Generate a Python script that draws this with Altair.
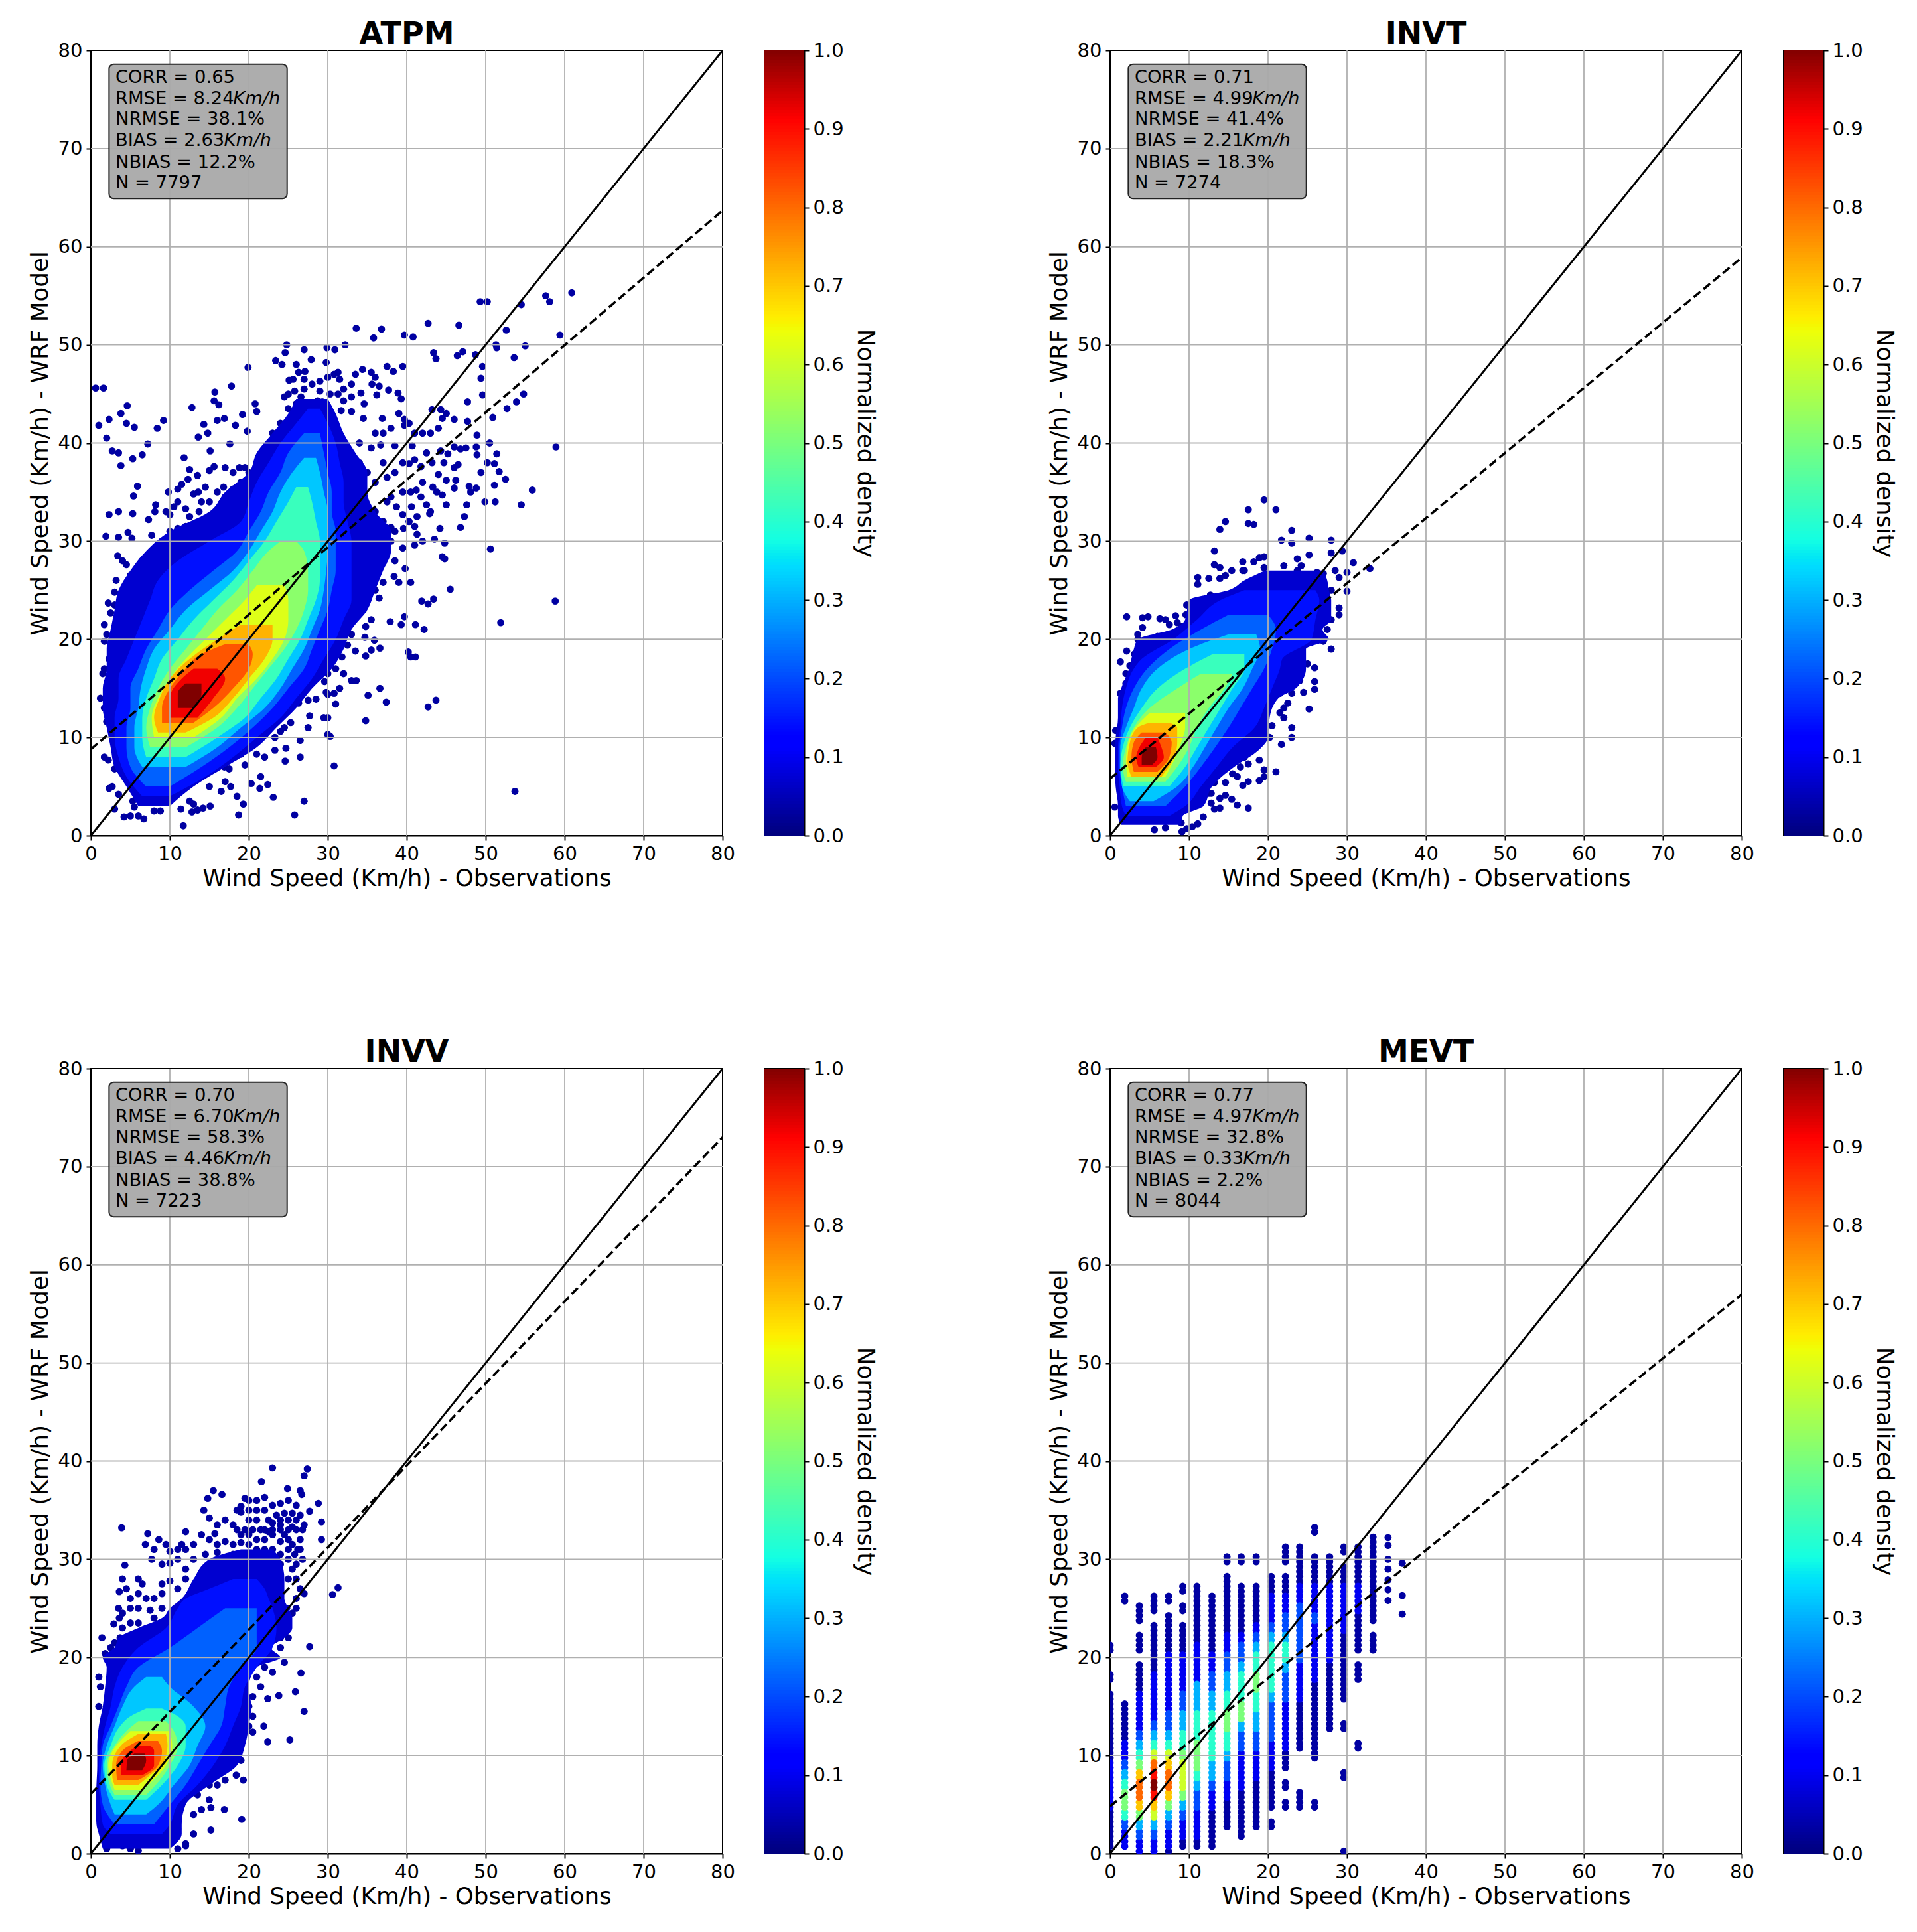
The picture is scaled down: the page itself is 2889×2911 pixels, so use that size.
import altair as alt
import pandas as pd

alt.data_transformers.disable_max_rows()

FONT = "DejaVu Sans"
TICKS = [0, 10, 20, 30, 40, 50, 60, 70, 80]
GRID = [10, 20, 30, 40, 50, 60, 70]
CB_TICKS = [0, .1, .2, .3, .4, .5, .6, .7, .8, .9, 1]
LEVEL = {'0': .03, '1': .1, '2': .2, '3': .3, '4': .4, '5': .5, '6': .6, '7': .7, '8': .8, '9': .9, 'X': 1.0}
BAND = [.07, .14, .22, .32, .42, .52, .62, .72, .82, .92, 1.0]
JET_D = [0, .11, .125, .34, .35, .375, .64, .65, .66, .89, .91, 1]
JET_R = ["#00007f", "#0000ff", "#0000ff", "#00dbff", "#00e5f7", "#14ffe2", "#eeff08", "#f7f500", "#ffec00", "#ff1300", "#ff0000", "#7f0000"]

ATPM_BANDS = [
 [(3,6,10),(5,4.5,13),(7,3,17),(9,2.5,21),(11,2,23.5),(13,1.5,26),(15,1.5,28),(17,2,30.5),(19,2,32),(21,2.5,33),(23,3,35),(25,3.5,36),(27,5,37),(29,7,38),(31,10,38),(33,15,36),(35,17,35),(37,20,35),(39,21,33.5),(41,23,32),(43,25,31),(44.5,26,30)],
 [(4,6.5,10),(6,4.5,14.5),(8,3.5,18),(10,3,21),(12,3,24),(14,3.5,26),(16,3.5,28),(18,4.5,29.5),(20,5.5,31),(22,6.5,32),(24,7.5,33),(26,8.5,33),(28,11,33),(30,15,33),(32,19,32.5),(34,20,32),(36,21,32),(38,22.5,31.5),(40,24,31),(42,26,30),(43.5,27.5,29)],
 [(5,7,10),(7,5,14),(9,4.5,17.5),(11,4.5,20.5),(13,5,23),(15,5,25),(17,6,27),(19,7,28),(21,8.5,29),(23,10,30),(25,12.5,30.5),(27,15.5,31),(29,18.5,31),(31,20,31),(33,21.5,30.5),(35,22.5,30.5),(37,24,30),(39,25,29.5),(41,27,29)],
 [(7,6.5,12),(9,5.5,16),(11,5.5,19),(13,6,22),(15,6.3,24),(17,7,25.5),(19,8,27),(21,10,28),(23,12,29),(25,15,29.5),(27,18,29.8),(29,20,30),(31,21.5,30),(33,23,30),(35,24,29.5),(37,25.5,29),(38.5,27,28.5)],
 [(8,7,12),(10,6.5,16),(12,6.5,19.5),(14,7,21.5),(16,8,23.5),(18,9,25),(20,11,26.5),(22,13,27.5),(24,15.5,28.5),(26,18,29),(28,20,29),(30,22,29),(32,23.5,28.5),(34,25,28),(35.5,26,27.5)],
 [(9,7.5,12),(11,7,16),(13,7.5,18.5),(15,8.5,20.5),(17,10,22.5),(19,12,24.5),(21,14,26),(23,16,27),(25,18.5,27.5),(27,20.5,27.5),(29,22.5,27),(30,24,26)],
 [(10,8,13),(12,7.7,16.5),(14,8.5,18.5),(16,10,21),(18,12,23),(20,14.5,24.5),(22,17,25),(24,19.5,25),(25.5,21,24.5)],
 [(10.5,8.5,12),(12,8,15.5),(14,8.7,18),(16,10,20),(18,12.5,22),(20,16,23),(21.5,19,23)],
 [(11.5,9,13),(13,9,15.5),(15,10,18),(17,12,20),(18.5,14,20.5),(19.5,17,20)],
 [(12,10,13.5),(14,10,15.5),(16,11.5,17),(17,13,16)],
 [(13,11,13.2),(14.5,11,14),(15.5,12,14)],
]
ATPM_XY = [(.6,45.6),(1.6,45.6),(4.6,43.8),(3.8,43),(2.3,42.4),(1,41.8),(4.5,42),(5.5,41.6),(2,40.5),(9.2,42.3),(8.4,41.5),(7.2,39.9),(6.5,38.8),(5.3,38.4),(2.7,39.2),(3.5,39),(3.8,37.7),(5.9,35.6),(5.4,34.6),(3.5,33),(2.3,32.7),(5.3,32.8),(8.2,33.7),(8.1,33),(7.3,32.2),(1.9,30.5),(3.5,30.4),(4.7,30.9),(5.2,30.3),(7.7,30.6),
(11.8,38.5),(17.8,45.8),(15.7,45.2),(15.6,44.3),(16.2,43.9),(12.8,43.6),(14.3,41.9),(13.6,40.6),(14.8,41),(16,42.3),(16.9,42.5),(18.3,41.8),(19.2,42.9),(19.8,41.2),(20.8,44),(21,43.2),(19.9,47.7),(17.6,39.9),(15.1,39.2),
(24.8,50),(23.4,48.4),(24.2,48),(24.6,49.2),(27,49.5),(27.9,48.5),(29.9,49.7),(30.9,49.5),(29.8,48.2),(32.2,50),(33.6,51.7),(36.8,51.6),(35.8,50.7),(39.7,51),(40.8,50.8),(42.7,52.2),(46.6,52),(49.3,54.4),(50.2,54.4),(57.6,55),(58.1,54.4),(60.9,55.3),(54.5,54.1),(52.6,51.5),(51.3,50),(51.4,49.7),(55,49.9),(59.4,51),(53.6,48.7),(48.7,49),(47.1,49.3),(46.4,48.9),(43.4,49.2),(43.7,48.6),(49.6,47.8),(49.4,46.6),(49.6,44.9),(47.7,44.2),(54.8,45),(53.9,44.2),(52.7,43.5),(50.9,42.6),(46,42.4),(47.7,42.2),(48.9,40.8),(58.9,39.6),(50.5,40),(51.4,38.9),(48.8,39.6),(48.9,38.8),(49.4,37),(50.2,38),(51.1,37.9),(51.7,37.1),(52.5,36.3),(55.9,35.2),(49.9,34),(51.2,34),(54.5,33.7),(51.1,35.7),(48.8,35.4),(47.9,35.6),(48.1,35),(47.6,33.7),(47.3,32.5),(46.8,31.4),(50.6,29.2),(44.8,29.8),(44.5,28.4),(44.8,28.2),(45.5,25.1),(43.4,24.1),(42.7,23.6),(41.9,23.9),(58.8,23.9),(51.9,21.7),(42.2,21),(41.1,21.5),(39.3,21.5),(39.7,22.3),(37.9,21.8),(40.2,18.7),(40.5,18.2),(41.1,18.2),(36.6,19.1),(35.9,19.9),(35.5,18.9),(34.8,18.3),(34.7,20.2),(43.7,13.8),(42.7,13.1),(37.4,13.6),(36.6,15),(35.1,14.3),(33.6,15.8),(34.8,11.7),(30.8,7.1),(53.7,4.5),(27,3.5),(25.8,2.1),(26.5,8),(24.7,8.9),(24.6,7.6),(23.1,3.9),(18.7,2.1),(11.7,1),(22.4,5.2),(21.4,4.8),(21.5,6),(20.3,5.3),(19.3,3.2),(15.1,3),(14.2,2.8),(11.4,2.7),
(26,48),(26.3,47.2),(27.1,47.3),(25.1,46.4),(25.6,46.5),(27,46.5),(28,46),(29,46.3),(30,46.7),(30.8,47),(31.3,47.2),(31.5,46.5),(33.5,47),(34.4,47.5),(35.5,47.2),(36,46.7),(35.6,46),(36.5,45.8),(37.5,47.8),(38.3,47.3),(39.5,47.8),(25,45),(24.5,44.7),(25.8,45.3),(26.6,44.7),(28.7,44.3),(29.3,44.2),(30.3,45),(31.3,45),(32,44.3),(33,44.7),(34.2,45.1),(34.6,44),(36.2,44.9),(37.7,45.4),(38.9,45.1),(39.3,44.5),(30,43.5),(31.7,43.3),(33,43.2),(34.5,42.5),(36.9,42.5),(39,43),(39.7,42.4),(40.3,42),(36,41),(37,41),(38,41.5),(39.7,41.8),(41,41),(42,41),(43,41),(44,41.5),(44.5,42.5),(45,43),(44.3,43.4),(43.2,43.4),
(34,40),(35.5,39.5),(36.7,39.8),(38.5,39.7),(40.7,39.7),(42.5,39),(44.3,39.2),(45.2,38.9),(46,39.6),(46.8,39.4),(47.5,39.5),(40.3,37.9),(41,38.3),(41.8,37.6),(43.2,38),(44.7,38),(46,37.5),(46.5,37.8),(44,36.8),(45,36.2),(46.2,36.2),(46,35.4),(42,36),(41.2,35.2),(40.5,35),(41.8,34.5),(42.5,33.7),(43,33),(43.3,35.5),(43.8,35),(44.5,34.7),(45,33.7),(42.9,32.8),(39.5,35),(38,34.5),(37.5,34),(38.7,33.5),(39.5,32.7),(40.3,32),(40.6,33.5),(41.3,32.5),(41,31.5),(37,32),(38,31.4),(39.6,31.3),(41.3,30.7),(42,30),(44.2,31.3),(43.5,30.2),(41,29.6),(39.5,29.3),(37.5,29),(38.5,28),(39.8,27.2),(37,27.8),(36,27),(38.4,26.4),(37,25.8),(39,25.8),(40.5,25.8),(36,25),(35,25),(36.5,24.2),(34.5,23),(33.5,23.5),(33,22),(35.5,22),(34.8,21.3),(33,20.5),(32,20),
(9.5,33),(10,32.7),(10.5,33.5),(11,35.3),(11.5,35.8),(12.3,36.3),(12.5,37.3),(13.5,36.7),(15,37.2),(15.6,37.6),(17,37.5),(18,37),(18.8,37.5),(19.5,37.5),(9.8,35),(11,34),(13,34.8),(13.6,35),(14.5,35.5),(16,35),(16.8,35.5),(18,35.3),(12.5,32.5),(13.7,33),(15,32.5),(16.5,33.8),(14.5,31),(15.7,31.7),(10,31),(11,31.3),(12,31.5),(13,31),(7.2,28.5),(8.3,29),(10,29),(3.4,28.5),(4,28),(4.5,27.6),(5,26.5),(6,27),(6.5,26),(8,27.5),(9,27),(3.2,26),(3,24.8),(5.2,25),(6,24.5),(2.2,23.7),(3,23.5),(2.5,22.7),(4,23.5),(5,23),(1.7,21.5),(3,21),(1.7,19.8),(3,19),(2.3,18),(1.5,16.5),(2,15),(1.2,14),(1.7,13),(2,11.6),(1.7,8),(2.2,7.7),(3,6.8),(2.7,5),(2.3,4.8),(3.5,4.2),(3,2.7),(4.2,1.9),(5,2),(6,2),(6.7,1.7),(5.3,3.5),(5.5,2.9),(7,3.4),(8,2.5),(8.8,2.5),(9,3.5),
(12.5,3.5),(12.8,2.4),(13,3.2),(13.5,2.6),(15,5),(16.5,4.5),(17,5.5),(17.7,5),(18.5,4),(16.9,7),(17.5,6.8),(18.2,8),(19,8.3),(19.5,7.2),(20.3,9.6),(21,8.3),(22,8),(23.3,8.7),(23.3,10),(24,10.6),(24.5,11),(25.3,11.5),(26.5,9.7),(27.5,11),(27.7,12.2),(26.3,13.5),(27.5,13.8),(28.5,13.9),(29.8,14.6),(30,14.4),(30.8,14.5),(31.5,15),(31,13.4),(29.5,12),(30,12),(30,10.3),(30.3,10.1),(29.6,15.7),(30,16.5),(31,17),(32,16.5),(33,15.8),(31.8,18.2),(32.5,19.4),(33.5,18.8),
(33,27),(34.5,28.5),(35,30),(36,31.5),(37,30),(38,30),(38.5,31),(36,33),(35,33.5),(34,35),(33.5,37),(36,36),(37.5,36.5),(35,37),(34,38),(37,38),(38.5,37),(39.5,38),(36,29),(34.5,26),(33,24),(32,22.5),(31,20),(30,18.5),(9,30),(8,28.5),(6.5,28),(7,26.5),(5.5,25.5),(4.3,25),(4,24),(3.5,22),(2,20.5),(1.7,17),(2,13.5),(12,33.3),(14,34),(15,34),(17,34.5),(18,34),(19,36),(20,37),(21,38),(22,39),(23,41),(24,42),(25,43.5),(26,44),(27,45.5),(29,45.3),(32,45.5),(33,46)]

INVT_BANDS = [
 [(1.1,1.4,9),(2,1,9.2),(3,1,11.8),(5,.7,12.9),(7,.6,15.7),(8.5,.6,18.5),(10,.7,20),(12,1,20.2),(14,1,21.3),(15,1.4,23.5),(17,2.4,24.8),(19,3,24.8),(20,3.5,27.7),(21,7.8,26.9),(22,9.5,28),(24,10,28),(25,15,27.7),(26,17,27.5),(27,19.6,27)],
 [(2,2,7.5),(3,1.5,9.5),(5,1.2,11.5),(7,1,13.5),(9,1,15.5),(11,1.3,18.3),(13,1.5,19.5),(15,2,20.5),(17,3,21.5),(18,4,21.8),(20,8,25.5),(22,11,26),(24,14,26.5),(25,17,26)],
 [(3,2,7),(5,1.5,9.5),(7,1.2,11.5),(9,1.2,13.3),(11,1.5,15),(13,2,16.5),(15,3,18),(17,4.7,19.5),(19,7.5,20.5),(21,11.5,21),(22.5,15,20)],
 [(3.5,2.5,5.5),(5,1.5,8.5),(7,1.3,10.5),(9,1.3,12),(11,2,13.5),(13,3,15),(15,4,16.8),(17,6,18),(19,10,19),(20.5,15,18.5)],
 [(5,1.7,7.5),(7,1.3,9.5),(9,1.6,11),(11,2.5,12.5),(13,4,14),(15,6,15.5),(17,9.5,17),(18.5,13,17)],
 [(5.5,2,7),(7,1.6,8.5),(9,2,10),(11,3,11),(13,5,12.5),(15,8.5,14.5),(16.5,11.5,15.5)],
 [(6,2.2,7),(7.5,2,8),(9.5,2.3,9),(11,3.2,9.5),(12.5,5,9.5)],
 [(6,2.7,6.5),(7.5,2.2,7.8),(9.5,2.5,8.5),(11,3.5,8.5),(11.5,5,7.5)],
 [(6.5,3,6),(8,2.7,7.5),(9.5,3,7.8),(10.5,4,7)],
 [(7,3.6,5.8),(8,3.3,6.8),(9,3.7,6.5),(10,4.5,6)],
 [(7.2,4,5.3),(8,4,6),(9,4.5,5.8)],
]
INVT_XY = [(19.5,34.2),(17.5,33.2),(21,33.2),(14.6,32),(13.9,31.2),(17.5,31.8),(18.2,31.7),(23,31.1),(21.7,30.1),(23,29.8),(25.2,30.3),(28,30.1),(13.2,29),(32.9,27.2),(30.8,27.8),(30,26.8),(30,24.9),(29.4,29),(28,28.8),(25.2,28.6),(23.7,28.2),(13.2,27.6),(13.9,27.3),(15.4,27),(11.1,26.3),(11.1,25.6),(12.5,26.2),(13.9,26.2),(14.6,26.5),(16.8,27.9),(16.8,27),(18.2,27.9),(18.9,28.3),(19.5,28.4),(2.1,22.3),(4.1,22.2),(4.8,22.3),(6.3,22.1),(8.3,22.4),(4.1,21.2),(2.1,18.8),(1.3,17.7),(25.9,17.1),(25.9,15.7),(25.9,14.9),(24.5,14.6),(25.2,12.9),(23,10),(23,11),(21.7,9.3),(21,6.5),(18.9,7.7),(19.5,6.7),(19.5,6),(18.9,5.6),(17.5,5.5),(16.8,5.1),(16.1,6),(14.6,5.4),(13.2,5.4),(17.5,2.8),(16.1,3.1),(15.4,3.7),(14.6,4.1),(13.9,3.8),(13.9,2.8),(13.2,2.7),(12.5,4.3),(11.8,1.9),(11.1,1.2),(10.4,.9),(9.7,.7),(9.1,.4),(7,.8),(5.6,.6),(.6,2.9),(.7,10.7),(.6,9.4),
(17,27),(19.5,27.3),(22,27.5),(23.7,27),(24.2,27.5),(25.2,26.5),(26.2,26.8),(27,26.7),(28.5,27),(29,26.3),(28,25),(29,23.2),(29,22.5),(28,22),(27.5,21),(27,19.8),(28,19),(11,23.5),(12,23.7),(12.7,24.5),(9.7,23.5),(9.6,22.5),(9,21.3),(8.5,21.7),(7.5,21.5),(7,22),(3.5,20.5),(3.5,20),(6,20.3),(6.7,20),(5.2,19),(3.1,18.5),(2.5,17.3),(2,16.5),(2,15.5),(1.3,14.5),(25,17.5),(24,18),(23.5,15.5),(22.5,15.8),(22,15),(24,15.8),(21.5,14.5),(23,14.5),(22.5,13.5),(21.5,12.5),(22,12),(22,13),(20.5,11.2),(20.2,10),(19,10.5),(17,8),(18,9),(17.5,7.3),(16.5,7),(15.5,6.3),(12.8,4.3),(12.8,3.3),(11,3.8),(9.7,2.7),(8,1.8),(9,1.3)]

INVV_BANDS = [
 [(.5,1.5,10),(2,1,11.5),(3,.7,11.5),(5,.6,12),(7,.7,15),(9,.8,18.5),(11,.8,19.5),(13,1,20),(15,1.5,20.3),(17,1.8,20),(19,2,21),(20,1.5,24),(21,3,22.8),(22,3.5,24.5),(23,6,25.5),(24,9,25.5),(25,10,25),(26,11.5,24.5),(28,13,24.5),(30,15,24),(31,19,23)],
 [(2,2.5,9),(3,1.5,10),(5,1.2,11),(7,1,13.5),(9,1,15.5),(11,1.3,17),(13,1.8,18),(15,2.5,19),(17,3,19.5),(19,4,21),(21,6,23),(23,9.5,23.5),(25,11,23),(26,12,22.5),(27,15,22),(28,18,21)],
 [(3,3,8),(5,1.5,10),(7,1.2,12),(9,1.3,13.5),(11,1.5,15),(13,2.5,16.5),(15,3.5,17),(17,4.5,17.5),(19,6,19),(21,10,21),(23,13.5,21),(25,17,21)],
 [(4,3,7),(5,2.5,8.5),(7,1.8,10.5),(9,1.5,12.5),(11,2,13.5),(13,3,14.5),(15,4,13),(17,5.5,10),(18,7,9)],
 [(5.5,3,7),(7,2,9),(9,1.7,11),(11,2.5,12),(13,3.7,12),(14,5,11),(14.8,7,9)],
 [(6,3,7),(7,2.4,8.2),(9,2,10),(11,3,11),(12.5,4.5,10.5),(13.5,6,9.5)],
 [(6.5,3,6.5),(8,2.4,8.5),(9,2.2,9.5),(11,3.2,10.3),(12.5,5,10)],
 [(7,3,6),(8,2.7,7.5),(9,2.7,9),(11,3.8,9.7),(12.2,6,9.5)],
 [(7.5,3.3,6),(9,3.2,8.5),(10.5,4,9),(11.5,6,8.5)],
 [(8,3.8,6.5),(9,3.8,8),(10.5,5,8),(11,6,7.5)],
 [(8.5,4.5,6.5),(9.5,4.6,7),(10.2,5.5,6.8)],
]
INVV_XY = [(23,39.3),(27.4,39.2),(27,38.5),(21.6,37.9),(26.5,37),(15.5,37),(24.9,37.2),(26.7,36.6),(16.6,36.6),(14.8,36.2),(31.3,27.1),(30.6,26.4),(27.7,21.1),(26.6,18.4),(25.9,16.5),(23.8,16.1),(22.4,15.8),(27,14.5),(21.9,13),(20.5,12.4),(22.4,11.4),(25.2,11.6),(19.1,3.5),(16.9,4.5),(15.2,4.7),(15.2,2.4),(19.3,7.5),(18.4,8),(28.8,35.7),(27.7,34.9),(29.2,33.8),(29.2,32),(1.4,22),(2.9,23.4),(1.8,20.4),(3.6,26.7),(4.3,29.4),(7.2,32.6),(8.6,32),(6.9,31.5),(3.9,33.2),
(18.5,35),(19,35.4),(19.5,36.2),(20,36),(21,36),(22,36.3),(23,35.5),(24,35.7),(25,36),(26,35.5),(14.3,35),(15,34.2),(16,33.5),(17,34),(18,33.5),(19,34.8),(20,34),(21,34),(22.5,34),(24,34),(25,34),(26,34),(27,33.5),(21.5,33),(23,33),(24,33),(25,33),(26,33),(26.5,32),(25,32),(24,31.8),(23,32.5),(21,32),(20,31.5),(19,31.7),(18,31.5),(17,31.8),(16,31.5),(15,32),(15.7,32.6),(14,32.5),(12,32.8),(11.5,31.5),(11,31),(12,31),(9.5,31.5),(10,30.8),(8,31),(7.7,30),(9,29.5),(10,29.6),(11,30),(12,29),(13,30),(4,28),(4.5,27),(6,28),(6.5,27.5),(5,26),(6,26.5),(7,26),(8,26),(9,26.5),(9,27.5),(10,27.8),(11,27),(12,28),(3.5,25),(4,24.5),(5,25),(6,25),(7.5,24.8),(8,24),(9,25),(3.6,24),(4,23),(5,23.5),(6,23.5),(3.7,22),(4,21.5),(2.5,21),(3,21.5),(2,20),(1,18),(1.2,17),(1,15),(25,30),(25.5,29),(26.5,31),(26.8,30),(25,28),(26,28),(26.5,27),(26,26),(27,26.5),(24.8,25),(25.5,24.5),(26,25),(24,22),(25,22),(24,21),(23,20),(24.5,19.5),(22,19),(23,18.5),(21,18),(21.5,17),(20.5,16),(20,15),(20.5,14),(20,13),(19,9.5),(18,10),(19,11),(17,9),(16,7),(17,7.5),(15,7),(13.5,6),(15,5.5),(14,4.5),(13,4),(13,2),(12,1),(11,2.5),(12,.8),(4,.8),(3,1),(2,.5),(5,.5),(6,.3),(11,.5),
(18,29),(19,30),(20,30.5),(21,31),(22,31),(23,31),(24,30.5),(25,31),(24,29.5),(25.8,30.5),(18.5,33),(19.5,33),(20.5,33),(22,33),(22,32),(23.5,34.5),(24.5,34.7),(25.5,34.7),(26.5,34.5),(22,35),(21,35),(20,35),(23,33.7),(24.5,32.5),(25.5,33.3),(26.8,33),(24,33.5),(25.5,31.5),(26.2,31),(16,29.5),(15,29),(14.5,30.5),(13,31.5),(17,30),(18,30.5),(16,30.7),(19,32.5),(20,32.5),(22.5,32.8),(26,29.5)]

MEVT_STRIPE_X = [0,1.85,3.7,5.55,7.4,9.2,11,12.9,14.8,16.6,18.5,20.4,22.2,24,25.9,27.8,29.6,31.4,33.3]
MEVT_STRIPES = [
".0000111110000000.0..0",
".112455432110000..........0",
"11235788754321111000.00.00",
"1123679X9864321111100000.00",
"0112357887643221111110000.0",
".01123566654433221111000.0.0",
".011122345554443331111000000",
".00001123344444332211000000",
"...00011223445544332211000000.0",
"..00000111122355444322100000..0",
"...0000011122334455443210000..0",
"...0.000011122223444443211100",
".....0.0.00111112223443221100.00",
".....00....000001111222222110000",
".....0....000000001111112111000..0",
".............000000011111111000",
"0.......0....0..00000001111100.0",
"...........0......00.00001110000",
".....................00.000000000",
]
MEVT_XY = [(35.2,25.8),(35.2,26.9),(35.2,27.9),(35.2,29),(35.2,30),(35.2,31.4),(35.2,32.2),(37,24.4),(37,26.3),(37,29.6)]

PANELS = [
    dict(name="ATPM", bands=ATPM_BANDS, pts=ATPM_XY, fit=[8.8, 63.7],
         stats=["CORR = 0.65", "RMSE = 8.24", "NRMSE = 38.1%", "BIAS = 2.63", "NBIAS = 12.2%", "N = 7797"]),
    dict(name="INVT", bands=INVT_BANDS, pts=INVT_XY, fit=[5.8, 58.9],
         stats=["CORR = 0.71", "RMSE = 4.99", "NRMSE = 41.4%", "BIAS = 2.21", "NBIAS = 18.3%", "N = 7274"]),
    dict(name="INVV", bands=INVV_BANDS, pts=INVV_XY, fit=[6.1, 73.0],
         stats=["CORR = 0.70", "RMSE = 6.70", "NRMSE = 58.3%", "BIAS = 4.46", "NBIAS = 38.8%", "N = 7223"]),
    dict(name="MEVT", stripes=MEVT_STRIPES, sx=MEVT_STRIPE_X, pts=MEVT_XY, fit=[4.84, 57.0],
         stats=["CORR = 0.77", "RMSE = 4.97", "NRMSE = 32.8%", "BIAS = 0.33", "NBIAS = 2.2%", "N = 8044"]),
]
STAT_Y = [77.2, 75.05, 72.95, 70.8, 68.6, 66.5]
ITALIC_X = {1: 18.0, 3: 16.85}

W, H = 952, 1183
xs = alt.Scale(domain=[0, 80], nice=False, zero=False)
ys = alt.Scale(domain=[0, 80], nice=False, zero=False)
cs = alt.Scale(domain=JET_D, range=JET_R, interpolate="rgb", clamp=True)
xaxis = alt.Axis(values=TICKS, grid=False, title="Wind Speed (Km/h) - Observations", format="d", titlePadding=5)
yaxis = alt.Axis(values=TICKS, grid=False, title="Wind Speed (Km/h) - WRF Model", format="d", titlePadding=9)


def ex(f):
    return alt.X(f, scale=xs, axis=xaxis)


def ey(f):
    return alt.Y(f, scale=ys, axis=yaxis)


def panel(p):
    recs = []
    if "stripes" in p:
        for sx, s in zip(p["sx"], p["stripes"]):
            for j, c in enumerate(s):
                if c != ".":
                    recs.append(dict(x=sx, y=j - .25, d=LEVEL[c]))
                    recs.append(dict(x=sx, y=j + .25, d=LEVEL[c]))
    for a, b in p["pts"]:
        recs.append(dict(x=a, y=b, d=.03))
    df = pd.DataFrame(recs).sort_values("d", kind="stable")
    C = alt.Color("d:Q", scale=cs, legend=None)
    layers = [alt.Chart(df).mark_circle(size=118, opacity=1, clip=True).encode(x=ex("x:Q"), y=ey("y:Q"), color=C)]
    for level, band in zip(BAND, p.get("bands", [])):
        b = pd.DataFrame(band, columns=["y", "a", "b"]).assign(d=level)
        layers.append(alt.Chart(b).mark_area(orient="horizontal", interpolate="monotone", opacity=1, clip=True).encode(
            y=ey("y:Q"), x=ex("a:Q"), x2="b:Q", color=C))
    grid = pd.DataFrame({"v": GRID})
    layers.append(alt.Chart(grid).mark_rule(color="#b0b0b0", strokeWidth=1.8).encode(x=ex("v:Q")))
    layers.append(alt.Chart(grid).mark_rule(color="#b0b0b0", strokeWidth=1.8).encode(y=ey("v:Q")))
    one = pd.DataFrame({"a": [0, 80], "b": [0, 80], "f": p["fit"]})
    layers.append(alt.Chart(one).mark_line(color="black", strokeWidth=3, clip=True).encode(x=ex("a:Q"), y=ey("b:Q")))
    layers.append(alt.Chart(one).mark_line(color="black", strokeWidth=3.6, strokeDash=[13, 6], clip=True).encode(x=ex("a:Q"), y=ey("f:Q")))
    box = pd.DataFrame({"x0": [2.3], "x1": [24.85], "y0": [64.9], "y1": [78.6]})
    layers.append(alt.Chart(box).mark_rect(fill="#a9a9a9", fillOpacity=.95, stroke="#222222", strokeWidth=2, cornerRadius=7).encode(
        x=ex("x0:Q"), x2="x1:Q", y=ey("y0:Q"), y2="y1:Q"))
    txt = pd.DataFrame({"x": [3.1] * 6, "y": STAT_Y, "t": p["stats"]})
    layers.append(alt.Chart(txt).mark_text(align="left", baseline="middle", fontSize=27.4, font=FONT, color="black").encode(
        x=ex("x:Q"), y=ey("y:Q"), text="t:N"))
    ital = pd.DataFrame({"x": list(ITALIC_X.values()), "y": [STAT_Y[k] for k in ITALIC_X], "t": ["Km/h", "Km/h"]})
    layers.append(alt.Chart(ital).mark_text(align="left", baseline="middle", fontSize=27.4, font=FONT, fontStyle="italic", color="black").encode(
        x=ex("x:Q"), y=ey("y:Q"), text="t:N"))
    return alt.layer(*layers).properties(
        width=W, height=H,
        title=alt.TitleParams(p["name"], fontSize=46, fontWeight="bold", font=FONT, anchor="middle", offset=-14, color="black"),
    )


def colorbar():
    lv = [i / 250 for i in range(250)]
    df = pd.DataFrame({"a": lv, "b": [min(v + .006, 1) for v in lv], "k": 0, "k2": 1})
    return alt.Chart(df).mark_rect(clip=True).encode(
        x=alt.X("k:Q", scale=alt.Scale(domain=[0, 1], nice=False), axis=None),
        x2="k2:Q",
        y=alt.Y("a:Q", scale=alt.Scale(domain=[0, 1], nice=False, zero=False),
                axis=alt.Axis(orient="right", values=CB_TICKS, format=".1f", grid=False, title="Normalized density",
                              titlePadding=14)),
        y2="b:Q",
        color=alt.Color("a:Q", scale=cs, legend=None),
    ).properties(width=60, height=H)


def pair(p):
    return alt.hconcat(panel(p), colorbar(), spacing=42)


chart = alt.vconcat(
    alt.hconcat(pair(PANELS[0]), pair(PANELS[1]), spacing=254),
    alt.hconcat(pair(PANELS[2]), pair(PANELS[3]), spacing=254),
    spacing=220,
).properties(padding={"left": 33, "top": 20, "right": 0, "bottom": 0}).configure_view(
    stroke="black", strokeWidth=2
).configure_axis(
    labelFont=FONT, titleFont=FONT, labelFontSize=29, titleFontSize=35.7, labelColor="black", titleColor="black",
    tickColor="black", tickWidth=2, tickSize=7, domainColor="black", domainWidth=2, labelPadding=6, titleFontWeight="normal",
    labelFlush=False, labelOverlap=False,
)

chart.save("out.html", embed_options={"renderer": "svg", "actions": False})
